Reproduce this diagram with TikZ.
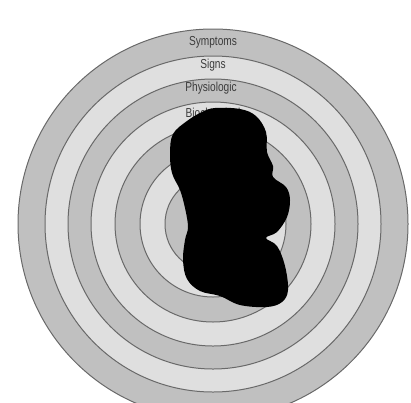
\documentclass[tikz,border=0pt]{standalone}
\usepackage{fontspec}
\setmainfont{Liberation Sans}
\definecolor{bandDark}{RGB}{192,192,192}
\definecolor{bandLight}{RGB}{223,223,223}
\definecolor{ringLine}{RGB}{105,105,105}
\definecolor{labelGray}{RGB}{60,60,60}
\tikzset{
  ring/.style={draw=ringLine, line width=1pt},
  ringlabel/.style={text=labelGray, inner sep=0pt, font=\fontsize{13}{15}\selectfont},
}
\newcommand{\cond}[1]{\scalebox{0.78}[1]{#1}}
\begin{document}
\begin{tikzpicture}[x=1pt,y=-1pt]
\useasboundingbox (0,0) rectangle (411,402);
\begin{scope}
\clip (0,0) rectangle (411,402);
\coordinate (c) at (213,224);
\fill[bandDark]  (c) circle[radius=195];
\fill[bandLight] (c) circle[radius=168];
\fill[bandDark]  (c) circle[radius=145];
\fill[bandLight] (c) circle[radius=122];
\fill[bandDark]  (c) circle[radius=98];
\fill[bandLight] (c) circle[radius=73];
\fill[bandDark]  (c) circle[radius=48];
\foreach \r in {195,168,145,122,98,73,48}
  \draw[ring] (c) circle[radius=\r];
\end{scope}
\node[ringlabel] (symptoms) at (213,42) {\cond{Symptoms}};
\node[ringlabel] (signs) at (213,65) {\cond{Signs}};
\node[ringlabel] (physio) at (211,88) {\cond{Physiologic}};
\node[ringlabel] (bio) at (213,113) {\cond{Biochemical}};
\fill[black] plot[smooth cycle, tension=0.6] coordinates {
 (215,108) (240,109) (256,116) (266,132) (267,152) (273,166) (273,177)
 (286,187) (290,200) (287,217) (277,232) (266,238) (277,246) (285,266)
 (288,290) (282,302) (267,307) (240,305) (220,296) (200,291) (187,279)
 (183,260) (185,240) (188,227) (185,208) (180,190) (172,173) (170,153)
 (173,134) (187,121) (202,112)};
\end{tikzpicture}
\end{document}
